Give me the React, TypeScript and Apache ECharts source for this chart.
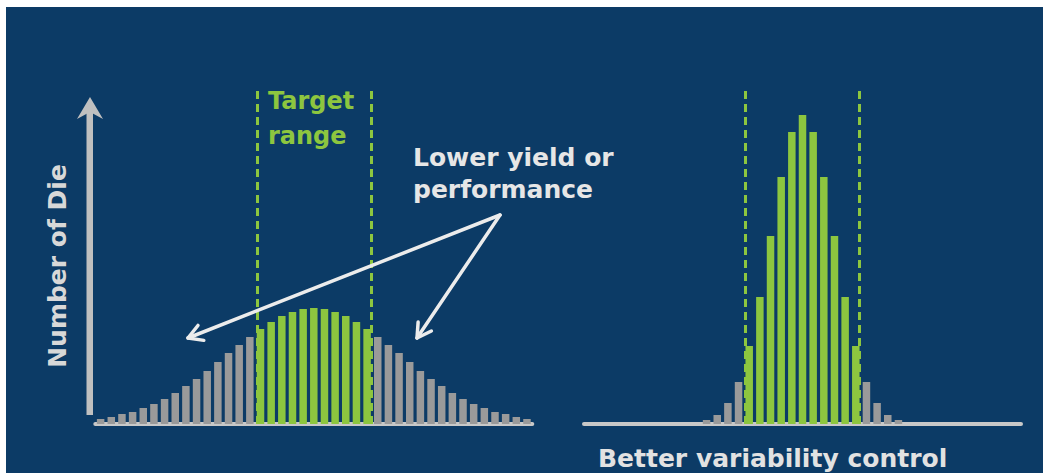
import React, { useEffect, useRef } from "react";
import * as echarts from "echarts";

// ---- data ----
const bins = [0, 1, 2, 3, 4, 5, 6, 7, 8, 9, 10, 11, 12, 13, 14, 15, 16, 17, 18, 19, 20, 21, 22, 23, 24, 25, 26, 27, 28, 29, 30, 31, 32, 33, 34, 35, 36, 37, 38, 39, 40];
const wideCounts = [5, 7, 10, 12, 16, 20, 25, 31, 38, 45, 53, 62, 71, 79, 87, 95, 102, 108, 112, 115, 116, 115, 112, 108, 102, 95, 87, 79, 71, 62, 53, 45, 38, 31, 25, 20, 16, 12, 10, 7, 5];
const narrowCounts = [0, 0, 0, 0, 0, 0, 0, 0, 0, 0, 0, 4, 9, 21, 42, 78, 127, 188, 247, 292, 309, 292, 247, 188, 127, 78, 42, 21, 9, 4, 0, 0, 0, 0, 0, 0, 0, 0, 0, 0, 0];
const targetBins = [15, 25];
const targetLimits = [14.65, 25.35];
const yMax = 336;

const labels = {
  yAxis: "Number of Die",
  target: ["Target", "range"],
  lower: ["Lower yield or", "performance"],
  better: "Better variability control",
};

const BG = "#0c3b66";
const GREEN = "#8dc63f";
const GRAY = "#9a9a9a";
const FONT = '"DejaVu Sans", Verdana, sans-serif';

function arrow(from: number[], tip: number[], len: number) {
  const dx = from[0] - tip[0];
  const dy = from[1] - tip[1];
  const d = Math.hypot(dx, dy);
  const ux = dx / d, uy = dy / d;
  const c = Math.cos(Math.PI / 6), s = Math.sin(Math.PI / 6);
  const a1 = [tip[0] + len * (ux * c - uy * s), tip[1] + len * (ux * s + uy * c)];
  const a2 = [tip[0] + len * (ux * c + uy * s), tip[1] + len * (-ux * s + uy * c)];
  const st = { stroke: "#ececec", lineWidth: 3.5, fill: null, lineCap: "round", lineJoin: "round" };
  return [
    { type: "polyline", z: 100, shape: { points: [from, tip] }, style: st },
    { type: "polyline", z: 100, shape: { points: [a1, tip, a2] }, style: st },
  ];
}

function barSeries(counts: number[], idx: number) {
  return {
    type: "bar",
    xAxisIndex: idx,
    yAxisIndex: idx,
    barWidth: 7.5,
    data: bins.map((b, i) => ({
      value: [b, counts[i]],
      itemStyle: { color: b >= targetBins[0] && b <= targetBins[1] ? GREEN : GRAY },
    })),
    markLine: {
      silent: true,
      symbol: "none",
      z: 10,
      label: { show: false },
      lineStyle: { color: GREEN, width: 3, type: [8, 5] },
      data: targetLimits.map((t) => [{ coord: [t, 0] }, { coord: [t, yMax] }]),
    },
  };
}

export default function App() {
  const ref = useRef<HTMLDivElement>(null);
  useEffect(() => {
    const chart = echarts.init(ref.current!, null, { renderer: "svg" });
    const axisX = (i: number) => ({
      type: "value",
      gridIndex: i,
      min: -0.5,
      max: 40.5,
      position: "bottom",
      axisLine: { show: true, onZero: false, lineStyle: { color: "#c8c8c8", width: 4 } },
      axisTick: { show: false },
      axisLabel: { show: false },
      splitLine: { show: false },
    });
    const axisY = (i: number) => ({ type: "value", gridIndex: i, min: 0, max: yMax, show: false, splitLine: { show: false } });
    const textStyle = (fill: string, size: number) => ({ fill, font: `bold ${size}px ${FONT}`, textAlign: "left", textVerticalAlign: "middle" });
    chart.setOption({
      animation: false,
      backgroundColor: BG,
      grid: [
        { left: 95.3, top: 88, width: 437, height: 336 },
        { left: 584, top: 88, width: 437, height: 336 },
      ],
      xAxis: [axisX(0), axisX(1)],
      yAxis: [axisY(0), axisY(1)],
      series: [barSeries(wideCounts, 0), barSeries(narrowCounts, 1)],
      graphic: [
        { type: "rect", z: 100, shape: { x: 0, y: 0, width: 1049, height: 7 }, style: { fill: "#ffffff" } },
        { type: "rect", z: 100, shape: { x: 0, y: 0, width: 6, height: 473 }, style: { fill: "#ffffff" } },
        { type: "rect", z: 100, shape: { x: 1043, y: 0, width: 6, height: 473 }, style: { fill: "#ffffff" } },
        { type: "rect", z: 100, shape: { x: 86.5, y: 108, width: 6.5, height: 307 }, style: { fill: "#c0c0c0" } },
        { type: "polygon", z: 100, shape: { points: [[90, 97], [103, 119], [90, 112], [77, 119]] }, style: { fill: "#c0c0c0" } },
        {
          type: "text", z: 100, x: 57, y: 266, rotation: Math.PI / 2,
          style: { text: labels.yAxis, fill: "#d8d8d8", font: `bold 25px ${FONT}`, textAlign: "center", textVerticalAlign: "middle" },
        },
        { type: "text", z: 100, x: 268, y: 101, style: { text: labels.target[0], ...textStyle(GREEN, 24) } },
        { type: "text", z: 100, x: 268, y: 136, style: { text: labels.target[1], ...textStyle(GREEN, 24) } },
        { type: "text", z: 100, x: 413, y: 157, style: { text: labels.lower[0], ...textStyle("#e6e6e6", 25) } },
        { type: "text", z: 100, x: 413, y: 189, style: { text: labels.lower[1], ...textStyle("#e6e6e6", 25) } },
        { type: "text", z: 100, x: 598, y: 458, style: { text: labels.better, ...textStyle("#e2e2e2", 25) } },
        ...arrow([500, 215], [188, 338], 16),
        ...arrow([500, 215], [417, 338], 16),
      ],
    });
    return () => chart.dispose();
  }, []);
  return <div ref={ref} style={{ position: "fixed", left: 0, top: 0, width: 1049, height: 473 }} />;
}
